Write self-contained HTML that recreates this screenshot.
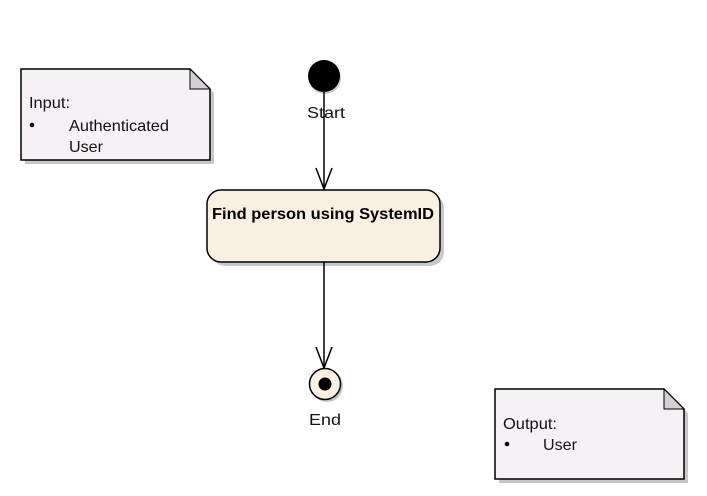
<!DOCTYPE html>
<html><head><style>body{margin:0;background:#fff}</style></head><body>
<svg width="707" height="491" xmlns="http://www.w3.org/2000/svg" font-family="Liberation Sans, Arial, sans-serif">
<!-- Input note -->
<polygon points="25,73 194,73 214,93 214,164 25,164" fill="#c8c8c8"/>
<polygon points="21,69 190,69 210,89 210,160 21,160" fill="#f5f1f5" stroke="#000" stroke-width="1.5"/>
<polygon points="190,69 190,89 210,89" fill="#d4d0d4" stroke="#000" stroke-width="1"/>
<text x="29" y="108" font-size="16" fill="#111" textLength="41" lengthAdjust="spacingAndGlyphs">Input:</text>
<circle cx="32" cy="125" r="2.3" fill="#000"/>
<text x="69" y="131" font-size="16" fill="#111" textLength="100" lengthAdjust="spacingAndGlyphs">Authenticated</text>
<text x="69" y="152" font-size="16" fill="#111" textLength="34" lengthAdjust="spacingAndGlyphs">User</text>
<!-- Start -->
<circle cx="325" cy="78" r="16" fill="#c8c8c8"/>
<circle cx="324" cy="76" r="16" fill="#000"/>
<text x="307" y="118" font-size="16" fill="#111" textLength="38" lengthAdjust="spacingAndGlyphs">Start</text>
<line x1="324" y1="92" x2="324" y2="189" stroke="#000" stroke-width="1.5"/>
<polyline points="316,168 324,189 332,168" fill="none" stroke="#000" stroke-width="1.5"/>
<!-- Activity -->
<rect x="211" y="194" width="233" height="72" rx="14" fill="#c8c8c8"/>
<rect x="207" y="190" width="233" height="72" rx="14" fill="#faf0e2" stroke="#000" stroke-width="1.5"/>
<text x="212" y="219" font-size="16" font-weight="bold" fill="#000" textLength="222" lengthAdjust="spacingAndGlyphs">Find person using SystemID</text>
<line x1="324" y1="262" x2="324" y2="368" stroke="#000" stroke-width="1.5"/>
<polyline points="316,347 324,368 332,347" fill="none" stroke="#000" stroke-width="1.5"/>
<!-- End -->
<circle cx="327" cy="386" r="16" fill="#c8c8c8"/>
<circle cx="325" cy="384" r="15.5" fill="#faf0e2" stroke="#000" stroke-width="1.5"/>
<circle cx="325" cy="384" r="6.5" fill="#000"/>
<text x="309" y="425" font-size="16" fill="#111" textLength="32" lengthAdjust="spacingAndGlyphs">End</text>
<!-- Output note -->
<polygon points="499,393 668,393 688,413 688,483 499,483" fill="#c8c8c8"/>
<polygon points="495,389 664,389 684,409 684,479 495,479" fill="#f5f1f5" stroke="#000" stroke-width="1.5"/>
<polygon points="664,389 664,409 684,409" fill="#d4d0d4" stroke="#000" stroke-width="1"/>
<text x="503" y="429" font-size="16" fill="#111" textLength="54" lengthAdjust="spacingAndGlyphs">Output:</text>
<circle cx="507" cy="444" r="2.3" fill="#000"/>
<text x="543" y="450" font-size="16" fill="#111" textLength="34" lengthAdjust="spacingAndGlyphs">User</text>
</svg>
</body></html>
